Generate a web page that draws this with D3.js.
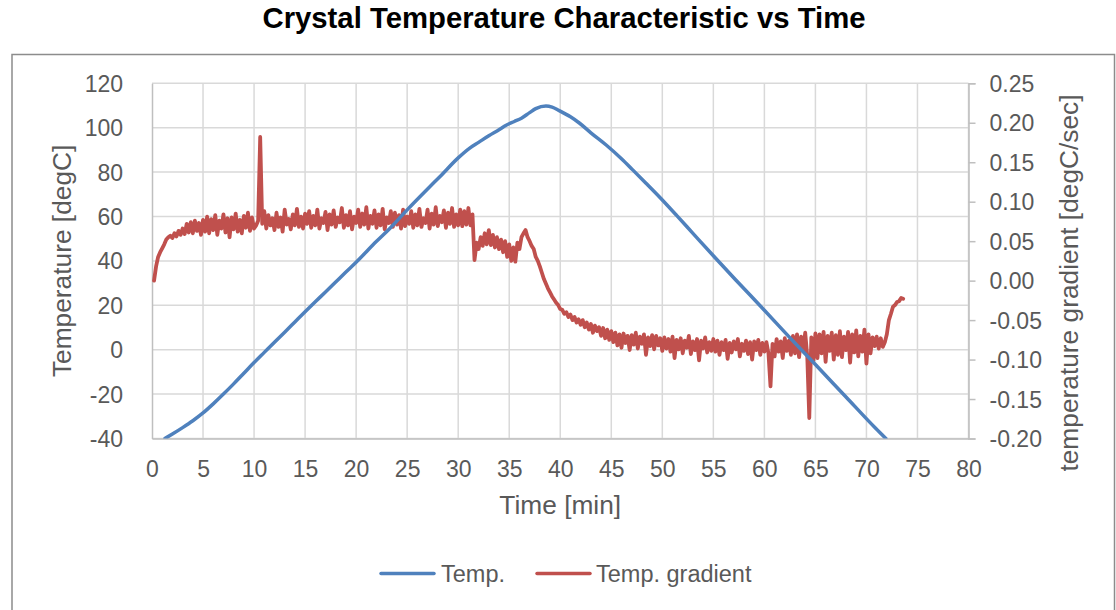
<!DOCTYPE html>
<html><head><meta charset="utf-8">
<script src="https://cdn.jsdelivr.net/npm/d3@7"></script>
<style>
html,body{margin:0;padding:0;background:#fff;}
svg{display:block;font-family:"Liberation Sans",Arial,sans-serif;}
</style></head>
<body>
<svg id="c" width="1116" height="610"></svg>
<script>
// ---------- data ----------
const title = "Crystal Temperature Characteristic vs Time";
const xTicks = [0,5,10,15,20,25,30,35,40,45,50,55,60,65,70,75,80];
const yLeftTicks = [-40,-20,0,20,40,60,80,100,120];
const yRightTicks = [-0.20,-0.15,-0.10,-0.05,0.00,0.05,0.10,0.15,0.20,0.25];
const seriesNames = ["Temp.","Temp. gradient"];

// Temperature [degC] vs time [min]
const tempTime = [1.27,2,3,4,5,6,7,8,9,10,11,12,13,14,15,16,17,18,19,20,22,23.3,25,27,28.2,30,31.1,32,33,34,34.7,35.5,36.2,37,37.6,38.6,39.2,39.9,41,41.9,43,44.5,46,47.1,48.4,49.7,51.4,53,55,57.2,60,62.4,65,68,70.9,71.9];
const tempValue = [-40,-38.0,-35.1,-32.0,-28.5,-24.4,-20.0,-15.4,-10.6,-5.8,-1.2,3.4,7.9,12.5,17.1,21.6,26.0,30.5,35.0,39.4,48.8,54.6,63.0,72.4,77.9,86.4,90.7,93.4,96.4,99.1,101.1,102.8,104.3,106.8,108.6,109.8,109.3,107.7,104.9,102.0,97.7,92.2,86.0,81.0,75.0,68.9,60.5,52.4,42.3,31.4,17.8,5.9,-6.7,-21.3,-35.4,-40];

// Temperature gradient [degC/sec], sampled every 0.2 min from 0.2 min
const gradStart = 0.2, gradStep = 0.2;
const gradValue = [
 0.000,0.018,0.030,0.036,0.041,0.046,0.052,0.055,0.057,0.054,0.060,0.056,0.063,0.058,0.066,0.059,0.072,0.061,0.074,0.060,0.076,0.063,0.073,0.058,0.077,
 0.062,0.081,0.060,0.078,0.064,0.083,0.058,0.076,0.066,0.084,0.061,0.079,0.055,0.080,0.065,0.085,0.062,0.077,0.060,0.082,0.067,0.086,0.063,0.080,0.066,
 0.070,0.076,0.182,0.072,0.088,0.066,0.083,0.070,0.079,0.064,0.086,0.068,0.080,0.062,0.090,0.071,0.078,0.065,0.084,0.070,0.091,0.068,0.081,0.066,0.085,
 0.072,0.088,0.067,0.082,0.070,0.090,0.066,0.079,0.073,0.087,0.064,0.084,0.071,0.089,0.068,0.080,0.074,0.092,0.067,0.083,0.070,0.088,0.065,0.081,0.073,
 0.090,0.068,0.085,0.071,0.093,0.066,0.082,0.072,0.089,0.067,0.084,0.070,0.091,0.065,0.080,0.073,0.088,0.068,0.086,0.071,0.083,0.066,0.090,0.069,0.081,
 0.072,0.088,0.067,0.084,0.070,0.091,0.068,0.079,0.073,0.090,0.066,0.085,0.071,0.093,0.069,0.082,0.074,0.089,0.067,0.086,0.072,0.092,0.068,0.084,0.070,
 0.090,0.069,0.088,0.071,0.092,0.070,0.084,0.026,0.048,0.040,0.055,0.044,0.060,0.046,0.064,0.045,0.058,0.042,0.055,0.040,0.052,0.036,0.050,0.030,0.046,
 0.025,0.042,0.024,0.048,0.040,0.055,0.060,0.064,0.055,0.050,0.044,0.040,0.030,0.025,0.018,0.010,0.002,-0.004,-0.010,-0.015,-0.020,-0.024,-0.028,-0.031,-0.036,
 -0.037,-0.042,-0.040,-0.046,-0.043,-0.050,-0.046,-0.053,-0.049,-0.056,-0.050,-0.059,-0.053,-0.062,-0.055,-0.066,-0.057,-0.064,-0.059,-0.070,-0.060,-0.073,-0.062,-0.075,-0.064,
 -0.078,-0.066,-0.082,-0.068,-0.085,-0.067,-0.079,-0.070,-0.088,-0.069,-0.081,-0.066,-0.086,-0.071,-0.080,-0.068,-0.094,-0.072,-0.083,-0.069,-0.087,-0.070,-0.082,-0.073,-0.089,
 -0.072,-0.086,-0.074,-0.090,-0.071,-0.098,-0.075,-0.087,-0.073,-0.092,-0.076,-0.085,-0.070,-0.093,-0.077,-0.088,-0.074,-0.101,-0.076,-0.086,-0.072,-0.091,-0.078,-0.089,-0.074,
 -0.090,-0.076,-0.094,-0.078,-0.088,-0.075,-0.099,-0.079,-0.091,-0.077,-0.087,-0.074,-0.096,-0.080,-0.089,-0.076,-0.093,-0.078,-0.100,-0.077,-0.088,-0.075,-0.094,-0.079,-0.090,
 -0.078,-0.092,-0.134,-0.080,-0.096,-0.074,-0.090,-0.077,-0.098,-0.073,-0.089,-0.076,-0.094,-0.070,-0.092,-0.068,-0.097,-0.071,-0.088,-0.066,-0.095,-0.174,-0.072,-0.101,-0.067,
 -0.098,-0.068,-0.092,-0.065,-0.103,-0.070,-0.089,-0.066,-0.100,-0.069,-0.094,-0.064,-0.097,-0.071,-0.088,-0.065,-0.104,-0.068,-0.091,-0.063,-0.096,-0.070,-0.090,-0.062,-0.105,
 -0.068,-0.092,-0.072,-0.083,-0.071,-0.086,-0.073,-0.084,-0.078,-0.068,-0.050,-0.042,-0.033,-0.031,-0.027,-0.026,-0.022,-0.023
];

// ---------- chart ----------
const svg = d3.select("#c");
const W = 1116, H = 610;
const L = 152, R = 968.5, T = 83.3, B = 438.5;
const x = d3.scaleLinear().domain([0,80]).range([L,R]);
const yL = d3.scaleLinear().domain([-40,120]).range([B,T]);
const yR = d3.scaleLinear().domain([-0.2,0.25]).range([B,T]);
const textCol = "#595959", gridCol = "#d9d9d9", axisCol = "#bfbfbf";
const blue = "#4F81BD", red = "#C0504D";
const hyph = f => (d => f(d).replace("\u2212","-"));

svg.append("rect").attr("x",0).attr("y",0).attr("width",W).attr("height",H).attr("fill","#fff");
svg.append("rect").attr("x",12).attr("y",54.5).attr("width",1102.5).attr("height",H).attr("fill","none")
  .attr("stroke","#8c8c8c").attr("stroke-width",1.5);

svg.append("text").attr("x",564).attr("y",28).attr("text-anchor","middle")
  .attr("font-weight","bold").attr("font-size",29.3).attr("fill","#000").text(title);

// grid
const grid = svg.append("g");
grid.selectAll("line.h").data(yLeftTicks).join("line")
  .attr("x1",L).attr("x2",R).attr("y1",d=>yL(d)).attr("y2",d=>yL(d))
  .attr("stroke",gridCol).attr("stroke-width",1.5);
grid.selectAll("line.v").data(xTicks.filter(d=>d>0)).join("line")
  .attr("y1",T).attr("y2",B).attr("x1",d=>x(d)).attr("x2",d=>x(d))
  .attr("stroke",gridCol).attr("stroke-width",1.5);

// axes
const ax = d3.axisBottom(x).tickValues(xTicks).tickSize(0).tickPadding(22).tickFormat(hyph(d3.format("d")));
const gx = svg.append("g").attr("transform",`translate(0,${B})`).call(ax);
const ayl = d3.axisLeft(yL).tickValues(yLeftTicks).tickSize(0).tickPadding(29).tickFormat(hyph(d3.format("d")));
const gyl = svg.append("g").attr("transform",`translate(${L},0)`).call(ayl);
const ayr = d3.axisRight(yR).tickValues(yRightTicks).tickSize(7).tickPadding(14).tickFormat(hyph(d3.format(".2f")));
const gyr = svg.append("g").attr("transform",`translate(${R},0)`).call(ayr);
[gx,gyl,gyr].forEach(g=>{
  g.select(".domain").attr("stroke",axisCol).attr("stroke-width",1.5);
  g.selectAll(".tick line").attr("stroke",axisCol).attr("stroke-width",1.5);
  g.selectAll("text").attr("fill",textCol).attr("font-size",23).attr("font-family","Liberation Sans, Arial, sans-serif");
});
gx.selectAll("text").attr("dy","0.71em");
gyl.selectAll("text").attr("dy","0.35em");
gyr.selectAll("text").attr("dy","0.35em");

// axis titles
svg.append("text").attr("x",(L+R)/2).attr("y",514).attr("text-anchor","middle")
  .attr("font-size",26.3).attr("fill",textCol).text("Time [min]");
svg.append("text").attr("transform",`translate(71,${(T+B)/2}) rotate(-90)`).attr("text-anchor","middle")
  .attr("font-size",26.3).attr("fill",textCol).text("Temperature [degC]");
svg.append("text").attr("transform",`translate(1078,283) rotate(-90)`).attr("text-anchor","middle")
  .attr("font-size",26.3).attr("fill",textCol).text("temperature gradient [degC/sec]");

// clip
svg.append("clipPath").attr("id","pa").append("rect").attr("x",L).attr("y",T-2).attr("width",R-L).attr("height",B-T+2);

// series
const gradData = gradValue.map((v,i)=>[gradStart+i*gradStep, v]);
const tempData = tempTime.map((t,i)=>[t,tempValue[i]]);
const plot = svg.append("g").attr("clip-path","url(#pa)");
plot.append("path").datum(gradData)
  .attr("d", d3.line().x(d=>x(d[0])).y(d=>yR(d[1])))
  .attr("fill","none").attr("stroke",red).attr("stroke-width",3.8)
  .attr("stroke-linejoin","round").attr("stroke-linecap","round");
plot.append("path").datum(tempData)
  .attr("d", d3.line().curve(d3.curveMonotoneX).x(d=>x(d[0])).y(d=>yL(d[1])))
  .attr("fill","none").attr("stroke",blue).attr("stroke-width",3.5)
  .attr("stroke-linejoin","round").attr("stroke-linecap","round");

// legend
const leg = svg.append("g");
const legItems = [{name:seriesNames[0],col:blue,x1:381,x2:434,tx:441},{name:seriesNames[1],col:red,x1:537,x2:590,tx:596}];
legItems.forEach(it=>{
  leg.append("line").attr("x1",it.x1).attr("x2",it.x2).attr("y1",573.5).attr("y2",573.5)
    .attr("stroke",it.col).attr("stroke-width",3.5).attr("stroke-linecap","round");
  leg.append("text").attr("x",it.tx).attr("y",573.5).attr("dy","0.35em")
    .attr("font-size",23.5).attr("fill",textCol).text(it.name);
});
</script>
</body></html>
